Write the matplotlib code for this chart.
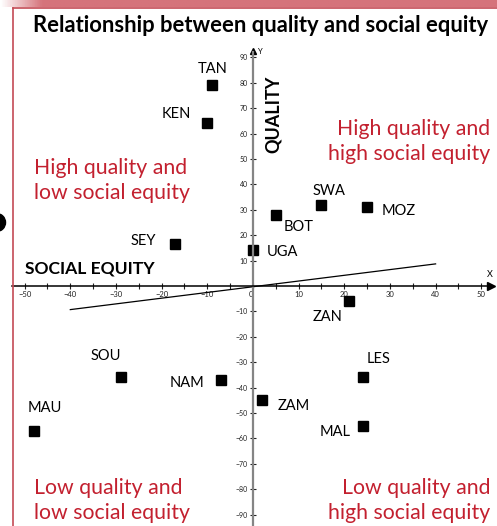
import matplotlib.pyplot as plt
import numpy as np

plt.rcParams['font.family'] = ['Lato', 'DejaVu Sans']

countries = ["TAN", "KEN", "SEY", "SWA", "MOZ", "BOT", "UGA",
             "ZAN", "LES", "SOU", "NAM", "MAU", "ZAM", "MAL"]
social_equity = [-9, -10, -17, 15, 25, 5, 0, 21, 24, -29, -7, -48, 2, 24]
quality = [79, 64, 16.5, 32, 31, 28, 14, -6, -36, -36, -37, -57, -45, -55]

trend_x = [-40, 40]
trend_y = [-9.3, 8.7]

x_ticks = list(range(-50, 51, 10))
y_ticks = [v for v in range(-90, 91, 10) if v != 0]

# label offsets in pixels (dx, dy)
label_offsets = {
    "TAN": (1, 16), "KEN": (-31, 9), "SEY": (-32, 3), "SWA": (8, 14),
    "MOZ": (32, -4), "BOT": (23, -12), "UGA": (29, -2), "ZAN": (-21, -16),
    "LES": (16, 18), "SOU": (-15, 21), "NAM": (-34, -3), "MAU": (11, 23),
    "ZAM": (32, -6), "MAL": (-27, -6),
}

red = "#c3202f"

fig = plt.figure(figsize=(4.97, 5.26), dpi=100)
ax = fig.add_axes([0, 0, 1, 1])
ax.set_xlim(-55.4, 53.45)
ax.set_ylim(-94.5, 112.6)
ax.patch.set_alpha(0)

# axes through the origin
for s in ["top", "right"]:
    ax.spines[s].set_visible(False)
ax.spines["left"].set_position(("data", 0))
ax.spines["bottom"].set_position(("data", 0))
ax.spines["left"].set_bounds(-96, 92)
ax.spines["left"].set_color("#858585")
ax.spines["left"].set_linewidth(1.6)
ax.spines["bottom"].set_bounds(-52.8, 51.5)
ax.spines["bottom"].set_linewidth(1.1)

ax.set_xticks(x_ticks)
ax.set_xticks(range(-50, 51, 5), minor=True)
ax.set_yticks(y_ticks)
ax.tick_params(axis="both", which="both", direction="inout", length=5,
               width=0.8, colors="#222222")
ax.tick_params(axis="x", labelsize=5.5, pad=1)
ax.tick_params(axis="y", labelsize=5, pad=1)
for lbl in ax.get_xticklabels():
    if lbl.get_text() in ("0", "−0"):
        lbl.set_horizontalalignment("right")

ax.plot(52.2, 0, marker=">", ms=6, color="black", clip_on=False)
ax.plot(0, 92.5, marker="^", ms=5, color="black", clip_on=False)
ax.text(51.8, 2.6, "X", fontsize=6.5, ha="center", va="bottom")
ax.text(1.0, 92.5, "Y", fontsize=5.5, ha="left", va="center")

# trend line
ax.plot(trend_x, trend_y, color="black", lw=0.9)

# countries
ax.plot(social_equity, quality, "s", color="black", ms=7, ls="none")
for name, x, y in zip(countries, social_equity, quality):
    dx, dy = label_offsets[name]
    ax.annotate(name, (x, y), xytext=(dx, dy), textcoords="offset pixels",
                ha="center", va="center", fontsize=10.5)

# axis titles
ax.text(4.5, 67.5, "QUALITY", rotation=90, fontsize=13, fontweight="bold",
        ha="center", va="center")
ax.text(-49.9, 7, "SOCIAL EQUITY", fontsize=12.6, fontweight="bold",
        ha="left", va="center")

# quadrant notes
note_kw = dict(color=red, fontsize=15.3, va="center", linespacing=1.3)
ax.text(-48.0, 41.5, "High quality and\nlow social equity", ha="left", **note_kw)
ax.text(52.0, 57.0, "High quality and\nhigh social equity", ha="right", **note_kw)
ax.text(-48.0, -84.5, "Low quality and\nlow social equity", ha="left", **note_kw)
ax.text(52.0, -84.5, "Low quality and\nhigh social equity", ha="right", **note_kw)

fig.text(0.5245, 0.951, "Relationship between quality and social equity",
         fontsize=15.8, fontweight="bold", ha="center", va="center")

# frame decoration
top_ax = fig.add_axes([0, 1 - 7 / 526, 1, 7 / 526])
grad = np.clip(np.linspace(0, 1, 200) * 12, 0, 1)[None, :]
strip_cmap = plt.matplotlib.colors.LinearSegmentedColormap.from_list(
    "strip", ["white", "#d5737b"])
top_ax.imshow(grad, aspect="auto", cmap=strip_cmap, extent=[0, 1, 0, 1])
top_ax.axis("off")
fig.add_artist(plt.Line2D([12.5 / 497, 1], [1 - 7.5 / 526, 1 - 7.5 / 526],
                          color="#c44a55", lw=1.2, transform=fig.transFigure))
fig.add_artist(plt.Line2D([12.5 / 497, 12.5 / 497], [0, 1 - 7.5 / 526],
                          color="#c44a55", lw=1.2, transform=fig.transFigure))
ax.plot(-56.3, 25.2, "o", color="black", ms=13, clip_on=True)

fig.savefig("out.png", dpi=100)
